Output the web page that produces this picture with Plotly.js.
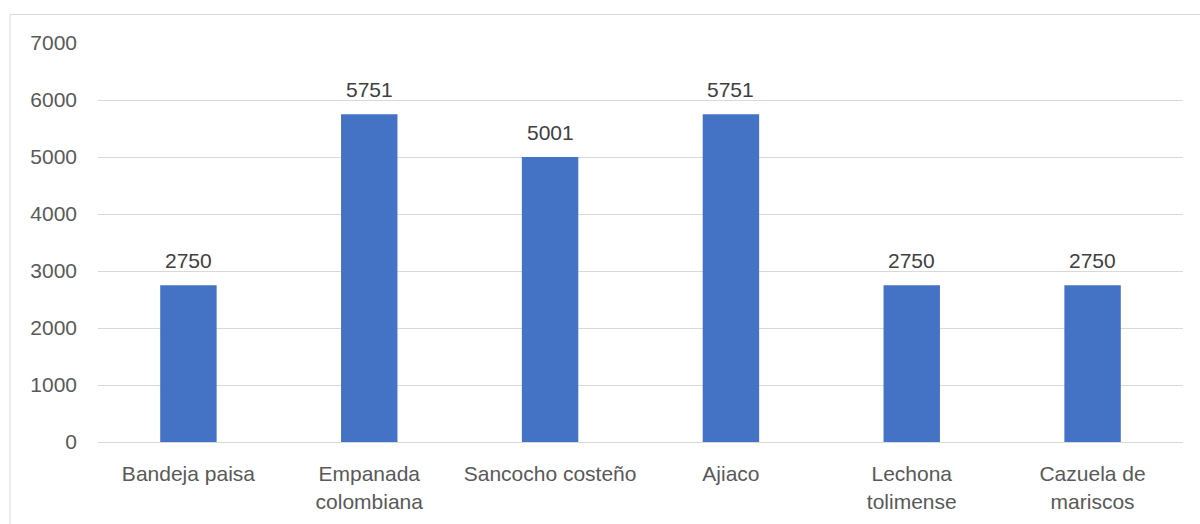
<!DOCTYPE html>
<html>
<head>
<meta charset="utf-8">
<script src="https://cdn.plot.ly/plotly-3.0.1.min.js"></script>
<style>html,body{margin:0;padding:0;background:#fff;}#chart{width:1200px;height:524px;}</style>
</head>
<body>
<div id="chart"></div>
<script>
const categories = ["Bandeja paisa", "Empanada<br>colombiana", "Sancocho costeño", "Ajiaco", "Lechona<br>tolimense", "Cazuela de<br>mariscos"];
const values = [2750, 5751, 5001, 5751, 2750, 2750];
const yTicks = [0, 1000, 2000, 3000, 4000, 5000, 6000, 7000];

const FONT = "Liberation Sans, Arial, sans-serif";
const trace = {
  type: "bar",
  x: categories,
  y: values,
  marker: {color: "#4472C4"},
  hoverinfo: "x+y"
};
const W = 1200, H = 524, L = 98, R = 17.3, T = 43, B = 82.4;
const pw = W - L - R, ph = H - T - B;
const labels = categories.map((c, i) => ({
  x: c, y: values[i], xref: "x", yref: "y",
  text: String(values[i]),
  showarrow: false,
  yanchor: "bottom",
  yshift: 11,
  font: {family: FONT, size: 21, color: "#404040"}
}));
const layout = {
  width: W, height: H,
  margin: {l: L, r: R, t: T, b: B, pad: 0},
  paper_bgcolor: "#ffffff",
  plot_bgcolor: "#ffffff",
  bargap: 0.688,
  showlegend: false,
  font: {family: FONT, size: 21, color: "#595959"},
  xaxis: {
    type: "category",
    showgrid: false,
    showline: true,
    linecolor: "#d9d9d9",
    linewidth: 1,
    ticks: "",
    tickfont: {family: FONT, size: 21, color: "#595959"},
    ticklabelstandoff: 13,
    zeroline: false
  },
  yaxis: {
    range: [0, 7000],
    tickvals: yTicks,
    ticktext: yTicks.map(String),
    showgrid: true,
    gridcolor: "#d9d9d9",
    gridwidth: 1,
    zeroline: false,
    showline: false,
    ticks: "",
    ticklabelstandoff: 20,
    tickfont: {family: FONT, size: 21, color: "#595959"}
  },
  annotations: labels,
  shapes: [{
    type: "rect", xref: "paper", yref: "paper",
    x0: (10 - L) / pw, x1: (1210 - L) / pw,
    y0: (H - B - 600) / ph, y1: (H - B - 14.5) / ph,
    line: {color: "#d9d9d9", width: 1},
    fillcolor: "rgba(0,0,0,0)",
    layer: "below"
  }]
};
Plotly.newPlot("chart", [trace], layout, {displayModeBar: false, staticPlot: true});
</script>
</body>
</html>
